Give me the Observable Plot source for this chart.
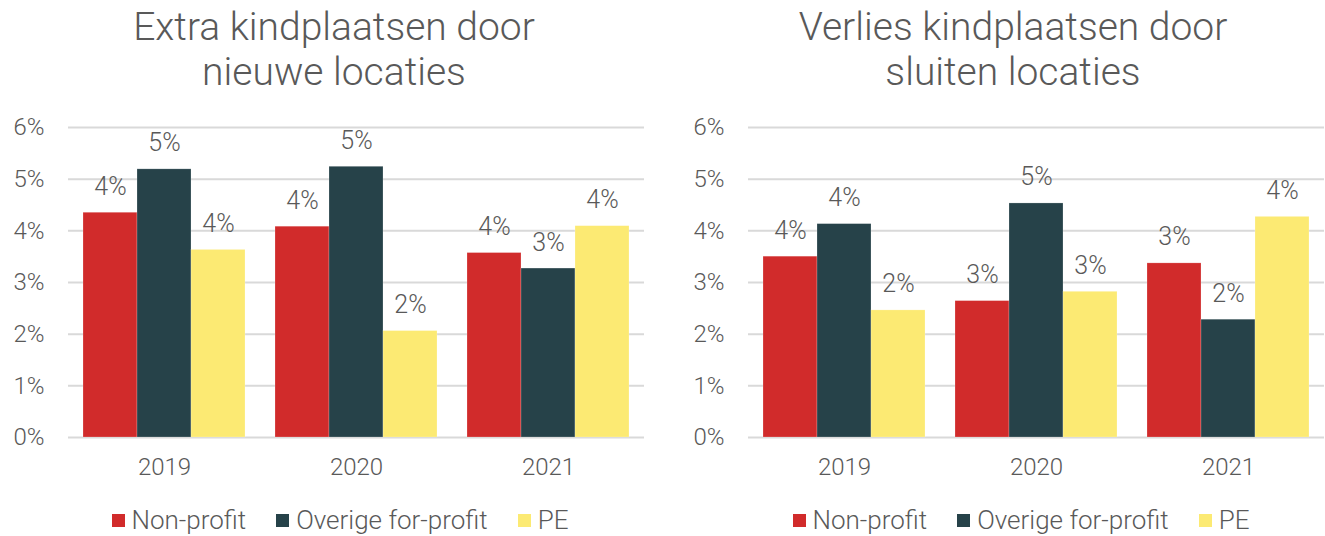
<!DOCTYPE html>
<html>
<head>
<meta charset="utf-8">
<script src="https://cdn.jsdelivr.net/npm/d3@7"></script>
<script src="https://cdn.jsdelivr.net/npm/@observablehq/plot@0.6"></script>
<style>
  html, body { margin: 0; padding: 0; background: #fff; }
  body { width: 1325px; height: 536px; position: relative; overflow: hidden;
         font-family: Roboto, "Open Sans", Lato, sans-serif; font-weight: 300; color: #595959; }
  .title { position: absolute; top: 5px; text-align: center; font-size: 39px; line-height: 45px; }
  .panel { position: absolute; top: 110px; }
  .legend { position: absolute; top: 505px; height: 30px; display: flex; justify-content: center;
            align-items: center; font-size: 26px; }
  .legend .item { display: flex; align-items: center; margin: 0 15px; }
  .legend .sw { width: 13px; height: 13px; margin-right: 7px; }
</style>
</head>
<body>
<div class="title" style="left:0;width:668px;">Extra kindplaatsen door<br>nieuwe locaties</div>
<div class="title" style="left:679px;width:668px;">Verlies kindplaatsen door<br>sluiten locaties</div>
<div class="panel" id="left" style="left:0;"></div>
<div class="panel" id="right" style="left:662px;"></div>
<div class="legend" id="legL" style="left:0;width:680px;"></div>
<div class="legend" id="legR" style="left:681px;width:680px;"></div>
<script>
const years = ["2019", "2020", "2021"];
const series = ["Non-profit", "Overige for-profit", "PE"];
const colors = ["#D12B2B", "#264249", "#FCEA73"];
const yTicks = [0, 1, 2, 3, 4, 5, 6];

// Extra kindplaatsen door nieuwe locaties (%)
const extraNonProfit = [4.35, 4.08, 3.57];
const extraOverige = [5.19, 5.24, 3.27];
const extraPE = [3.63, 2.06, 4.09];

// Verlies kindplaatsen door sluiten locaties (%)
const verliesNonProfit = [3.50, 2.64, 3.37];
const verliesOverige = [4.13, 4.53, 2.28];
const verliesPE = [2.46, 2.82, 4.27];

function rows(np, ov, pe) {
  const out = [];
  years.forEach((yr, i) => {
    [np, ov, pe].forEach((arr, j) => out.push({year: yr, series: series[j], value: arr[i]}));
  });
  return out;
}

function chart(data, width, mL, mR) {
  return Plot.plot({
    width, height: 380,
    marginTop: 17, marginBottom: 53, marginLeft: mL, marginRight: mR,
    style: {fontFamily: "Roboto, 'Open Sans', Lato, sans-serif", fontWeight: 300, fontSize: "24px", color: "#595959", background: "transparent", overflow: "visible"},
    fx: {domain: years, padding: 0, label: null, axis: "bottom", tickSize: 0, tickPadding: 20},
    x: {domain: series, axis: null, paddingInner: 0, paddingOuter: 0.248},
    y: {domain: [0, 6], ticks: yTicks, tickFormat: d => d + "%", label: null, tickSize: 0, tickPadding: 24},
    color: {domain: series, range: colors},
    marks: [
      Plot.gridY(yTicks, {stroke: "#D9D9D9", strokeOpacity: 1, strokeWidth: 2}),
      Plot.barY(data, {fx: "year", x: "series", y: "value", fill: "series", stroke: "#fff", strokeOpacity: 0.35, strokeWidth: 0.6}),
      Plot.text(data, {fx: "year", x: "series", y: "value", text: d => Math.round(d.value) + "%", dy: -26, fill: "#595959", fontSize: 25})
    ]
  });
}

document.getElementById("left").append(chart(rows(extraNonProfit, extraOverige, extraPE), 662, 67, 18));
document.getElementById("right").append(chart(rows(verliesNonProfit, verliesOverige, verliesPE), 663, 85, 0));

function legend(el) {
  series.forEach((s, i) => {
    const it = document.createElement("div");
    it.className = "item";
    const sw = document.createElement("span");
    sw.className = "sw";
    sw.style.background = colors[i];
    it.append(sw, document.createTextNode(s));
    el.append(it);
  });
}
legend(document.getElementById("legL"));
legend(document.getElementById("legR"));
</script>
</body>
</html>
